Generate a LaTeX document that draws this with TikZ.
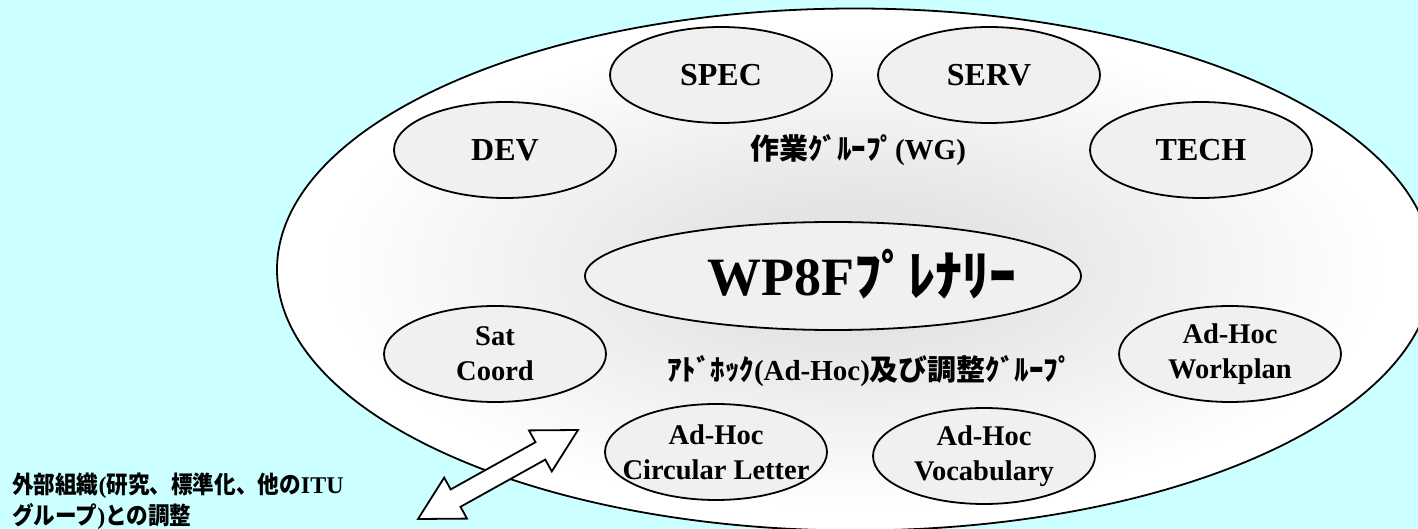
\documentclass[tikz,border=0pt]{standalone}
\usepackage{fontspec}
\setmainfont{Liberation Serif}
\newfontfamily\jp{Noto Sans CJK JP}
\newfontfamily\jpc{Noto Sans CJK JP}[FakeStretch=0.9]
\usetikzlibrary{shapes.geometric}
\definecolor{bgcyan}{RGB}{204,255,255}
\definecolor{ellfill}{RGB}{240,240,240}
\definecolor{bigc}{RGB}{228,228,228}
\pgfdeclareradialshading{bigshade}{\pgfpoint{0bp}{0bp}}{color(0bp)=(bigc); color(6bp)=(bigc); color(23bp)=(white); color(50bp)=(white)}
\begin{document}
\begin{tikzpicture}[x=1pt,y=-1pt,
  outline/.style={draw=black, line width=1.8pt},
  grp/.style={ellipse, outline, fill=ellfill, minimum width=222pt, minimum height=96pt,
    inner xsep=-40pt, inner ysep=0pt, align=center, font=\bfseries\fontsize{32}{35}\selectfont},
  grp2/.style={grp, font=\bfseries\fontsize{28.5}{35}\selectfont},
  lbl/.style={inner sep=0pt, font=\bfseries\fontsize{29}{32}\selectfont}]
\useasboundingbox (0,0) rectangle (1418,529);
\clip (0,0) rectangle (1418,529);
\fill[bgcyan] (0,0) rectangle (1418,529);
% outer ellipse: elliptical radial shading, then outline
\begin{scope}[transform canvas={yscale=0.45156}]
  \shade[shading=bigshade] (855,596.82) circle [radius=578pt];
\end{scope}
\node[ellipse, outline, minimum width=1156pt, minimum height=522pt, inner sep=0pt] (outer) at (855,269.5) {};
% working groups
\node[grp] (dev) at (505,150) {DEV};
\node[grp] (spec) at (721,75) {SPEC};
\node[grp] (serv) at (989,75) {SERV};
\node[grp] (tech) at (1201,150) {TECH};
\node[lbl] (wg) at (858,150) {{\jp\bfseries 作業ｸﾞﾙｰﾌﾟ}(WG)};
% plenary
\node[ellipse, outline, fill=ellfill, minimum width=496pt, minimum height=108pt, inner sep=0pt] (plen) at (833,276) {};
\node[inner sep=0pt, font=\bfseries\fontsize{54}{60}\selectfont] (plenlbl) at (862,274) {WP8F{\jp\bfseries ﾌﾟﾚﾅﾘｰ}};
% ad-hoc groups
\node[grp2] (sat) at (495,354) {Sat\\Coord};
\node[grp2] (wp) at (1230,354) {Ad-Hoc\\Workplan};
\node[grp2] (cl) at (716,452) {Ad-Hoc\\Circular Letter};
\node[grp2] (voc) at (984,456) {Ad-Hoc\\Vocabulary};
\node[lbl] (ah) at (870,371) {{\jp\bfseries ｱﾄﾞﾎｯｸ}(Ad-Hoc){\jp\bfseries 及び調整ｸﾞﾙｰﾌﾟ}};
% double block arrow
\draw[outline, fill=white, line join=miter] (578,430) -- (551.8,471.4) -- (545.3,459.6) -- (460.5,506.8)
  -- (467.0,518.6) -- (418,519) -- (444.2,477.6) -- (450.7,489.4) -- (535.5,442.2)
  -- (529,430.4) -- cycle;
% external coordination text
\node[anchor=north west, inner sep=0pt, align=left, font=\bfseries\fontsize{24}{31}\selectfont] (ext) at (12,473)
  {{\jpc\bfseries 外部組織}({\jpc\bfseries 研究、標準化、他の}ITU\\{\jpc\bfseries グループ}){\jpc\bfseries との調整}};
\end{tikzpicture}
\end{document}
